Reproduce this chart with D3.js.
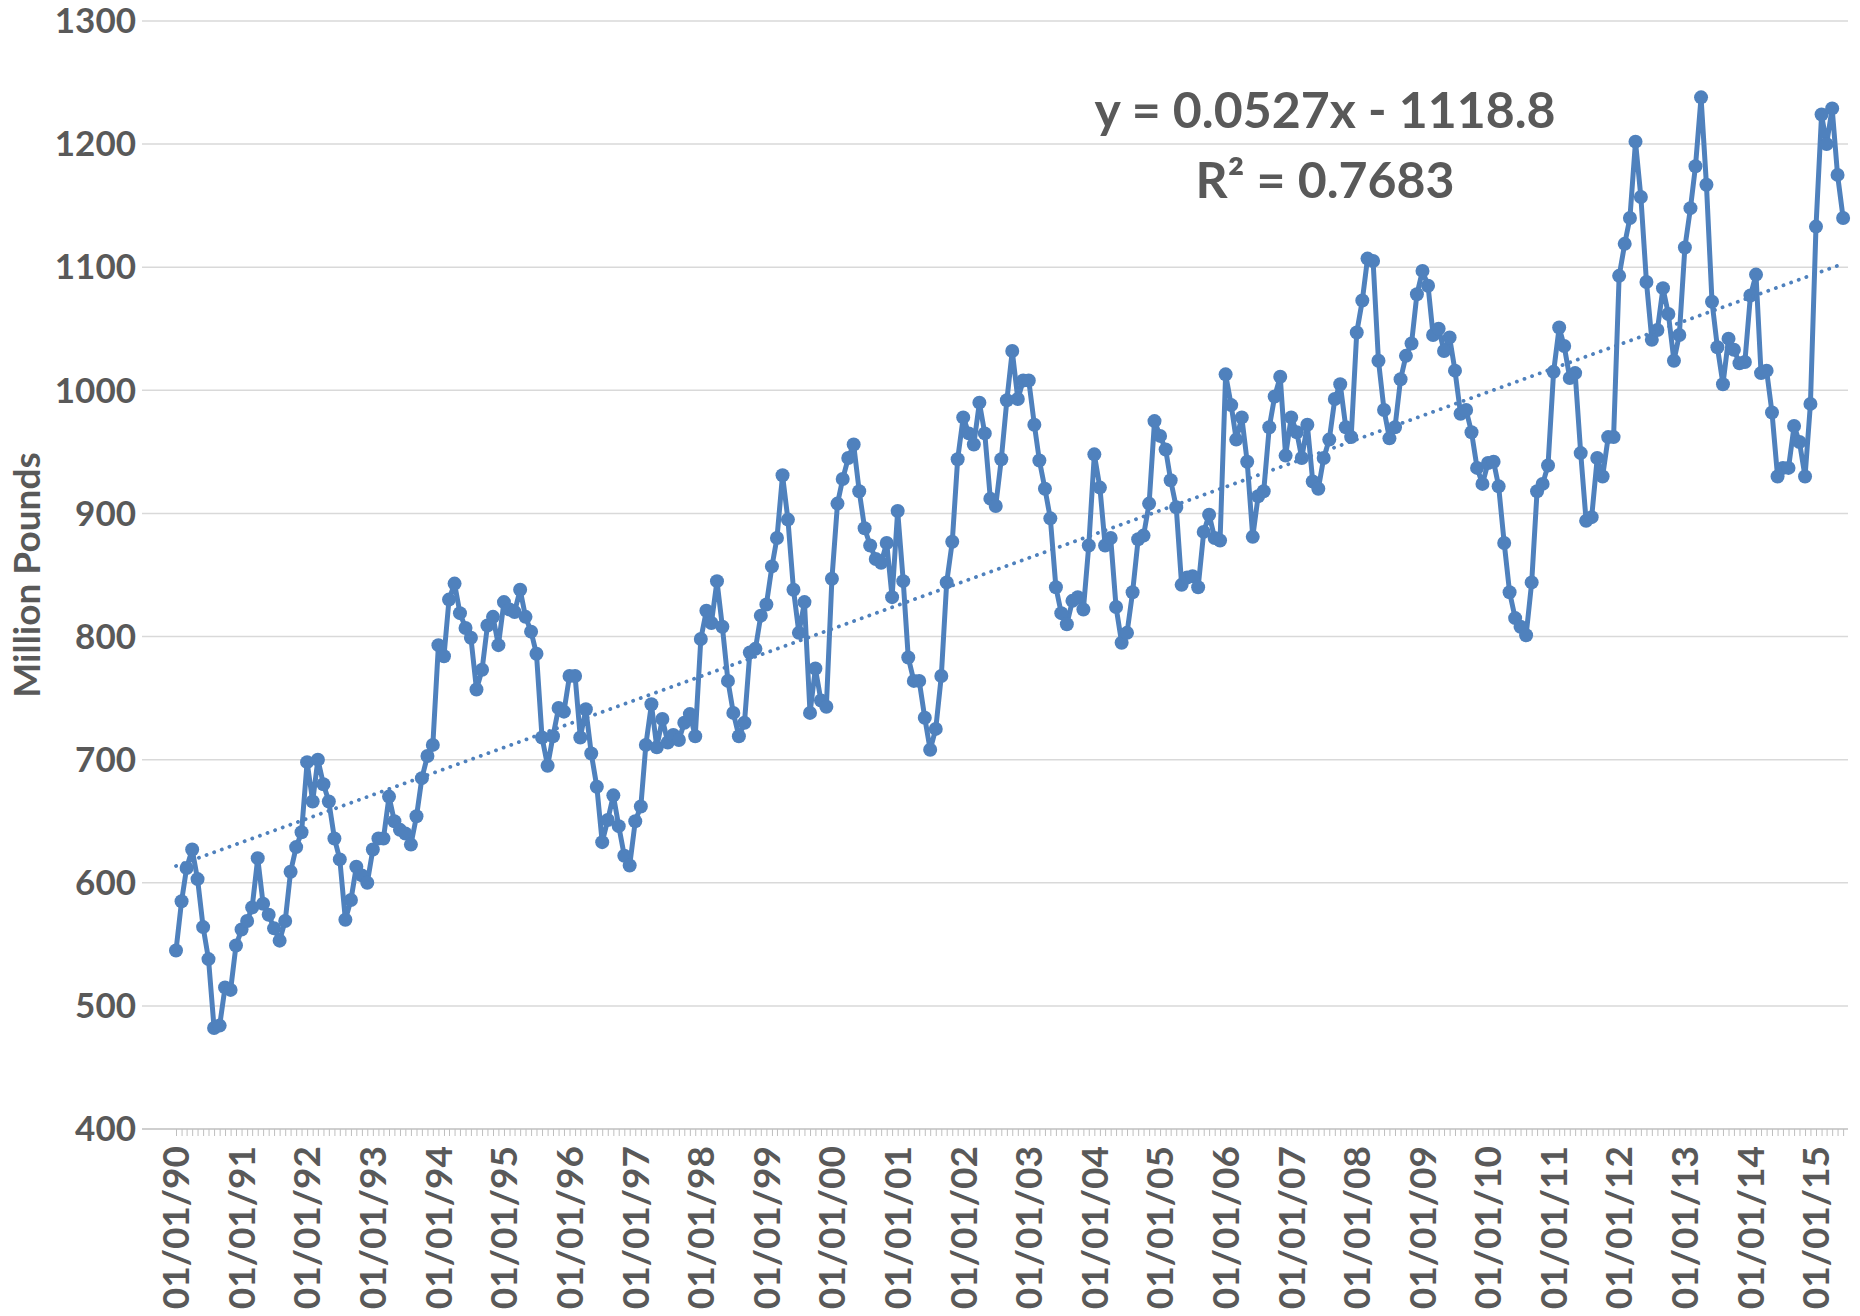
<!DOCTYPE html>
<html>
<head>
<meta charset="utf-8">
<script src="https://cdn.jsdelivr.net/npm/d3@7"></script>
<style>
  body { margin: 0; background: #fff; }
  text { font-family: Lato, "Open Sans", sans-serif; font-weight: 700; fill: #595959; }
</style>
</head>
<body>
<svg id="chart" width="1860" height="1316"></svg>
<script>
// monthly series, starting Jan 1990
const firstMonth = Date.UTC(1990, 0, 1);
const poundsByMonth = [
  545, 585, 612, 627, 603, 564, 538, 482, 484, 515, 513, 549,          // 1990
  562, 569, 580, 620, 583, 574, 563, 553, 569, 609, 629, 641,          // 1991
  698, 666, 700, 680, 666, 636, 619, 570, 586, 613, 606, 600,          // 1992
  627, 636, 636, 670, 650, 643, 640, 631, 654, 685, 703, 712,          // 1993
  793, 784, 830, 843, 819, 807, 799, 757, 773, 809, 816, 793,          // 1994
  828, 822, 820, 838, 816, 804, 786, 718, 695, 719, 742, 739,          // 1995
  768, 768, 718, 741, 705, 678, 633, 651, 671, 646, 622, 614,          // 1996
  650, 662, 712, 745, 710, 733, 714, 720, 716, 730, 737, 719,          // 1997
  798, 821, 811, 845, 808, 764, 738, 719, 730, 787, 790, 817,          // 1998
  826, 857, 880, 931, 895, 838, 803, 828, 738, 774, 748, 743,          // 1999
  847, 908, 928, 945, 956, 918, 888, 874, 863, 860, 876, 832,          // 2000
  902, 845, 783, 764, 764, 734, 708, 725, 768, 844, 877, 944,          // 2001
  978, 965, 956, 990, 965, 912, 906, 944, 992, 1032, 993, 1008,        // 2002
  1008, 972, 943, 920, 896, 840, 819, 810, 829, 832, 822, 874,         // 2003
  948, 921, 874, 880, 824, 795, 803, 836, 879, 882, 908, 975,          // 2004
  963, 952, 927, 905, 842, 848, 849, 840, 885, 899, 880, 878,          // 2005
  1013, 988, 960, 978, 942, 881, 914, 918, 970, 995, 1011, 947,        // 2006
  978, 966, 945, 972, 926, 920, 945, 960, 993, 1005, 970, 962,         // 2007
  1047, 1073, 1107, 1105, 1024, 984, 961, 970, 1009, 1028, 1038, 1078, // 2008
  1097, 1085, 1045, 1050, 1032, 1043, 1016, 981, 984, 966, 937, 924,   // 2009
  941, 942, 922, 876, 836, 815, 808, 801, 844, 918, 924, 939,          // 2010
  1015, 1051, 1036, 1010, 1014, 949, 894, 897, 945, 930, 962, 962,     // 2011
  1093, 1119, 1140, 1202, 1157, 1088, 1041, 1049, 1083, 1062, 1024, 1045, // 2012
  1116, 1148, 1182, 1238, 1167, 1072, 1035, 1005, 1042, 1033, 1022, 1023, // 2013
  1077, 1094, 1014, 1016, 982, 930, 937, 937, 971, 958, 930, 989,      // 2014
  1133, 1224, 1200, 1229, 1175, 1140                                    // 2015
];
const yTicks = [400, 500, 600, 700, 800, 900, 1000, 1100, 1200, 1300];
const labelYears = d3.range(1990, 2016);

// linear trendline as shown on the chart (x = Excel date serial)
const trendSlope = 0.0527;
const trendIntercept = -1118.8;
const rSquared = 0.7683;

const BLUE = "#4f81bd";
const PLOT = {left: 142, right: 1848, top: 21, bottom: 1129};

const data = poundsByMonth.map((v, i) => ({date: d3.utcMonth.offset(new Date(firstMonth), i), value: v}));
const lastDate = data[data.length - 1].date;

const x = d3.scaleUtc()
    .domain([new Date(firstMonth), lastDate])
    .range([176, 176 + (lastDate - firstMonth) / 86400000 * (1640 / 9131)]);

const y = d3.scaleLinear()
    .domain([400, 1300])
    .range([PLOT.bottom, PLOT.top]);

const svg = d3.select("#chart");

// grid
svg.append("g")
    .attr("id", "grid")
    .selectAll("line")
    .data(yTicks.slice(1))
    .enter().append("line")
    .attr("x1", PLOT.left)
    .attr("x2", PLOT.right)
    .attr("y1", d => y(d))
    .attr("y2", d => y(d))
    .attr("stroke", "#d9d9d9")
    .attr("stroke-width", 1.5);

// x axis: monthly tick marks, no labels
const xAxis = svg.append("g")
    .attr("id", "X Axis")
    .attr("transform", "translate(0," + PLOT.bottom + ")")
    .call(d3.axisBottom(x).ticks(d3.utcMonth.every(1)).tickSize(7).tickFormat(""));
xAxis.select(".domain").remove();
xAxis.selectAll(".tick line").attr("stroke", "#bfbfbf").attr("stroke-width", 1);
xAxis.append("line")
    .attr("x1", PLOT.left)
    .attr("x2", PLOT.right)
    .attr("stroke", "#bfbfbf")
    .attr("stroke-width", 1.5);

// y labels
svg.append("g")
    .attr("id", "Y Axis")
    .selectAll("text")
    .data(yTicks)
    .enter().append("text")
    .attr("x", 136)
    .attr("y", d => y(d))
    .attr("dy", "0.35em")
    .attr("text-anchor", "end")
    .style("font-size", "35px")
    .text(d => d);

// x labels, rotated
svg.append("g")
    .attr("id", "X Labels")
    .selectAll("text")
    .data(labelYears)
    .enter().append("text")
    .attr("transform", d => "translate(" + x(new Date(Date.UTC(d, 0, 1))) + ",1146) rotate(-90)")
    .attr("dy", "0.36em")
    .attr("text-anchor", "end")
    .style("font-size", "37px")
    .text(d => "01/01/" + String(d % 100).padStart(2, "0"));

svg.append("text")
    .attr("transform", "translate(27,575) rotate(-90)")
    .attr("dy", "0.35em")
    .attr("text-anchor", "middle")
    .style("font-size", "37px")
    .text("Million Pounds");

// series
const line = d3.line()
    .x(d => x(d.date))
    .y(d => y(d.value));

svg.append("path")
    .datum(data)
    .attr("id", "Series")
    .attr("fill", "none")
    .attr("stroke", BLUE)
    .attr("stroke-width", 5)
    .attr("stroke-linejoin", "round")
    .attr("d", line);

svg.append("g")
    .attr("id", "Markers")
    .selectAll("circle")
    .data(data)
    .enter().append("circle")
    .attr("cx", d => x(d.date))
    .attr("cy", d => y(d.value))
    .attr("r", 7)
    .attr("fill", BLUE);

// trendline
const serial = d => (d - Date.UTC(1899, 11, 30)) / 86400000;
const trend = [data[0].date, lastDate].map(d => ({date: d, value: trendSlope * serial(d) + trendIntercept}));

svg.append("path")
    .datum(trend)
    .attr("id", "Trend")
    .attr("fill", "none")
    .attr("stroke", BLUE)
    .attr("stroke-width", 3.8)
    .attr("stroke-linecap", "round")
    .attr("stroke-dasharray", "0.1 8")
    .attr("d", line);

// equation label
const eq = svg.append("g").attr("id", "Equation");
eq.append("text")
    .attr("x", 1325)
    .attr("y", 128)
    .attr("text-anchor", "middle")
    .style("font-size", "50px")
    .text("y = " + trendSlope + "x - " + Math.abs(trendIntercept));
eq.append("text")
    .attr("x", 1325)
    .attr("y", 198)
    .attr("text-anchor", "middle")
    .style("font-size", "50px")
    .text("R² = " + rSquared);
</script>
</body>
</html>
